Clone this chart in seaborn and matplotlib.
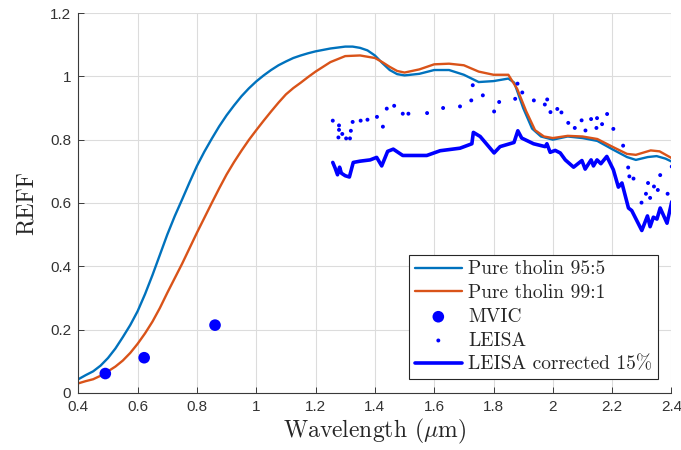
import matplotlib
matplotlib.use("Agg")
import matplotlib.pyplot as plt
from matplotlib.ticker import FuncFormatter
import seaborn as sns

# Pure tholin model, 95:5 mixture
tholin_955_wl = [0.400, 0.425, 0.450, 0.475, 0.500, 0.525, 0.550, 0.575, 0.600, 0.625,
                 0.650, 0.675, 0.700, 0.725, 0.750, 0.775, 0.800, 0.825, 0.850, 0.875,
                 0.900, 0.925, 0.950, 0.975, 1.000, 1.025, 1.050, 1.075, 1.100, 1.125,
                 1.150, 1.175, 1.200, 1.250, 1.300, 1.325, 1.350, 1.375, 1.400, 1.425,
                 1.450, 1.475, 1.500, 1.550, 1.600, 1.650, 1.700, 1.750, 1.800, 1.850,
                 1.870, 1.900, 1.930, 1.960, 2.000, 2.050, 2.100, 2.150, 2.200, 2.250,
                 2.280, 2.320, 2.350, 2.380, 2.400]
tholin_955_reff = [0.043, 0.056, 0.068, 0.086, 0.110, 0.140, 0.176, 0.214, 0.258, 0.312,
                   0.372, 0.436, 0.500, 0.558, 0.611, 0.665, 0.717, 0.762, 0.803, 0.842,
                   0.877, 0.908, 0.937, 0.962, 0.984, 1.003, 1.020, 1.035, 1.047, 1.058,
                   1.066, 1.073, 1.079, 1.088, 1.094, 1.094, 1.090, 1.082, 1.066, 1.042,
                   1.020, 1.007, 1.003, 1.008, 1.020, 1.020, 1.005, 0.982, 0.985, 0.993,
                   0.980, 0.900, 0.835, 0.810, 0.800, 0.810, 0.805, 0.796, 0.770, 0.745,
                   0.736, 0.745, 0.748, 0.740, 0.731]

# Pure tholin model, 99:1 mixture
tholin_991_wl = [0.400, 0.425, 0.450, 0.475, 0.500, 0.525, 0.550, 0.575, 0.600, 0.625,
                 0.650, 0.675, 0.700, 0.725, 0.750, 0.775, 0.800, 0.825, 0.850, 0.875,
                 0.900, 0.925, 0.950, 0.975, 1.000, 1.025, 1.050, 1.075, 1.100, 1.125,
                 1.150, 1.175, 1.200, 1.250, 1.300, 1.350, 1.400, 1.425, 1.450, 1.475,
                 1.500, 1.550, 1.600, 1.650, 1.700, 1.750, 1.800, 1.850, 1.880, 1.910,
                 1.940, 1.970, 2.000, 2.050, 2.100, 2.150, 2.200, 2.250, 2.280, 2.330,
                 2.360, 2.400]
tholin_991_reff = [0.030, 0.037, 0.043, 0.054, 0.068, 0.083, 0.102, 0.126, 0.155, 0.188,
                   0.225, 0.268, 0.316, 0.362, 0.408, 0.457, 0.506, 0.553, 0.600, 0.646,
                   0.690, 0.729, 0.765, 0.799, 0.830, 0.860, 0.889, 0.917, 0.943, 0.963,
                   0.980, 0.998, 1.015, 1.045, 1.064, 1.066, 1.058, 1.045, 1.030, 1.017,
                   1.012, 1.022, 1.038, 1.040, 1.035, 1.015, 1.005, 1.005, 0.960, 0.890,
                   0.830, 0.810, 0.805, 0.812, 0.810, 0.802, 0.778, 0.755, 0.752, 0.766,
                   0.763, 0.742]

# MVIC photometry
mvic_wl = [0.491, 0.622, 0.861]
mvic_reff = [0.061, 0.111, 0.214]

# LEISA spectrum
leisa_wl = [1.258, 1.279, 1.279, 1.277, 1.290, 1.303, 1.316, 1.319, 1.325, 1.352,
            1.375, 1.407, 1.427, 1.440, 1.465, 1.494, 1.513, 1.576, 1.630, 1.687,
            1.725, 1.730, 1.764, 1.802, 1.819, 1.873, 1.881, 1.897, 1.936, 1.973,
            1.981, 1.992, 2.015, 2.029, 2.052, 2.074, 2.097, 2.110, 2.129, 2.147,
            2.149, 2.166, 2.183, 2.204, 2.237, 2.254, 2.258, 2.272, 2.299, 2.314,
            2.321, 2.328, 2.341, 2.354, 2.362, 2.387, 2.401]
leisa_reff = [0.860, 0.845, 0.831, 0.807, 0.818, 0.804, 0.804, 0.828, 0.856, 0.860,
              0.863, 0.872, 0.841, 0.898, 0.907, 0.882, 0.882, 0.884, 0.900, 0.905,
              0.924, 0.972, 0.940, 0.889, 0.919, 0.929, 0.977, 0.949, 0.924, 0.911,
              0.927, 0.887, 0.897, 0.886, 0.853, 0.837, 0.861, 0.829, 0.865, 0.837,
              0.868, 0.849, 0.881, 0.834, 0.781, 0.712, 0.684, 0.677, 0.601, 0.629,
              0.663, 0.616, 0.652, 0.641, 0.688, 0.629, 0.715]

# LEISA spectrum with 15% correction
leisa_corr_wl = [1.258, 1.266, 1.274, 1.281, 1.287, 1.300, 1.314, 1.327, 1.350, 1.384,
                 1.406, 1.423, 1.443, 1.462, 1.494, 1.575, 1.620, 1.687, 1.727, 1.732,
                 1.755, 1.802, 1.822, 1.869, 1.882, 1.895, 1.935, 1.974, 1.980, 1.991,
                 2.008, 2.025, 2.042, 2.070, 2.098, 2.109, 2.129, 2.137, 2.149, 2.162,
                 2.182, 2.204, 2.221, 2.233, 2.255, 2.266, 2.300, 2.319, 2.328, 2.339,
                 2.351, 2.362, 2.385, 2.401]
leisa_corr_reff = [0.728, 0.710, 0.689, 0.713, 0.694, 0.686, 0.682, 0.728, 0.732, 0.736,
                   0.744, 0.717, 0.763, 0.770, 0.750, 0.750, 0.765, 0.773, 0.787, 0.823,
                   0.810, 0.758, 0.778, 0.791, 0.828, 0.805, 0.787, 0.778, 0.787, 0.760,
                   0.766, 0.758, 0.736, 0.713, 0.734, 0.707, 0.736, 0.717, 0.736, 0.724,
                   0.747, 0.705, 0.650, 0.663, 0.584, 0.576, 0.513, 0.559, 0.525, 0.555,
                   0.549, 0.584, 0.536, 0.604]

x_ticks = [0.4, 0.6, 0.8, 1.0, 1.2, 1.4, 1.6, 1.8, 2.0, 2.2, 2.4]
y_ticks = [0.0, 0.2, 0.4, 0.6, 0.8, 1.0, 1.2]

sns.set_theme(style="white")
plt.rcParams["mathtext.fontset"] = "cm"
plt.rcParams["axes.formatter.use_mathtext"] = True

fig = plt.figure(figsize=(6.81, 4.50), dpi=100)
ax = fig.add_axes([0.115, 0.127, 0.871, 0.844])

c_955 = "#0072BD"
c_991 = "#D95319"
c_obs = "#0000FF"

sns.lineplot(x=tholin_955_wl, y=tholin_955_reff, sort=False, estimator=None,
             color=c_955, linewidth=1.7, label="Pure tholin 95:5", ax=ax)
sns.lineplot(x=tholin_991_wl, y=tholin_991_reff, sort=False, estimator=None,
             color=c_991, linewidth=1.7, label="Pure tholin 99:1", ax=ax)
sns.scatterplot(x=mvic_wl, y=mvic_reff, color=c_obs, s=70, edgecolor="none",
                label="MVIC", ax=ax, zorder=3)
sns.scatterplot(x=leisa_wl, y=leisa_reff, color=c_obs, s=8, edgecolor="none",
                label="LEISA", ax=ax, zorder=3)
sns.lineplot(x=leisa_corr_wl, y=leisa_corr_reff, sort=False, estimator=None,
             color=c_obs, linewidth=2.6, label="LEISA corrected 15%", ax=ax)

ax.set_xlim(0.4, 2.4)
ax.set_ylim(0, 1.2)
ax.set_xticks(x_ticks)
ax.set_yticks(y_ticks)
fmt = FuncFormatter(lambda v, p: f"{v:g}")
ax.xaxis.set_major_formatter(fmt)
ax.yaxis.set_major_formatter(fmt)

ax.grid(True, color="#dcdcdc", linewidth=0.8)
ax.set_axisbelow(True)
for side in ("top", "right"):
    ax.spines[side].set_visible(False)
for side in ("left", "bottom"):
    ax.spines[side].set_color("#3a3a3a")
    ax.spines[side].set_linewidth(0.8)

ax.tick_params(axis="both", direction="in", length=4, width=0.7,
               colors="#3a3a3a", labelsize=11, pad=5,
               left=True, bottom=True)
for lab in ax.get_xticklabels() + ax.get_yticklabels():
    lab.set_fontfamily("Liberation Sans")
    lab.set_color("#333333")

ax.set_xlabel(r"Wavelength ($\mu$m)", fontfamily="cmr10", fontsize=17,
              color="#262626", labelpad=2)
ax.set_ylabel("REFF", fontfamily="cmr10", fontsize=17, color="#262626",
              labelpad=9)

handles, labels = ax.get_legend_handles_labels()
leg = ax.legend(handles, labels, loc="lower right",
                bbox_to_anchor=(0.978, 0.036), borderaxespad=0,
                prop={"family": "cmr10", "size": 14},
                frameon=True, fancybox=False, edgecolor="#262626",
                framealpha=1, borderpad=0.3, labelspacing=0.3,
                handlelength=2.4, handletextpad=0.35)
leg.get_frame().set_linewidth(0.8)

fig.savefig("out.png", dpi=100)
